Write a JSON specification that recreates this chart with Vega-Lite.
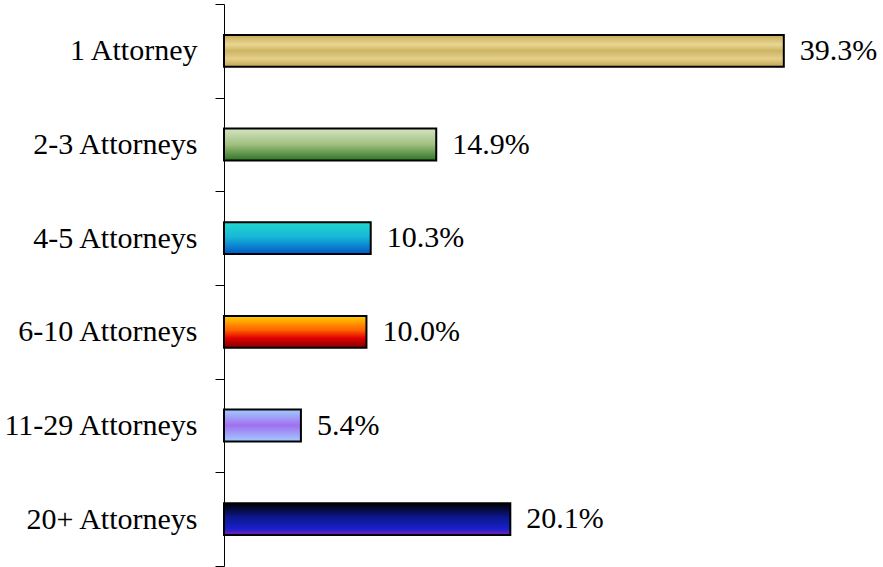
{
  "$schema": "https://vega.github.io/schema/vega-lite/v6.json",
  "width": 641,
  "height": 562,
  "autosize": "none",
  "padding": {"left": 224, "top": 4, "right": 18, "bottom": 1},
  "background": "white",
  "config": {"view": {"stroke": null}, "font": "Liberation Serif"},
  "data": {"values": [
    {"cat": "1 Attorney", "pct": 39.3, "label": "39.3%"},
    {"cat": "2-3 Attorneys", "pct": 14.9, "label": "14.9%"},
    {"cat": "4-5 Attorneys", "pct": 10.3, "label": "10.3%"},
    {"cat": "6-10 Attorneys", "pct": 10.0, "label": "10.0%"},
    {"cat": "11-29 Attorneys", "pct": 5.4, "label": "5.4%"},
    {"cat": "20+ Attorneys", "pct": 20.1, "label": "20.1%"}
  ]},
  "encoding": {
    "y": {"field": "cat", "type": "nominal", "sort": null,
      "scale": {"domain": ["1 Attorney", "2-3 Attorneys", "4-5 Attorneys", "6-10 Attorneys", "11-29 Attorneys", "20+ Attorneys"], "paddingInner": 0, "paddingOuter": 0},
      "axis": {"title": null, "domainColor": "black", "domainWidth": 1, "tickColor": "black", "tickSize": 9, "tickBand": "extent", "labelFont": "Liberation Serif", "labelFontSize": 30, "labelColor": "black", "labelPadding": 18, "labelLimit": 0}},
    "x": {"field": "pct", "type": "quantitative", "scale": {"domain": [0, 45], "nice": false}, "axis": null}
  },
  "layer": [
    {"transform": [{"filter": "datum.cat === '1 Attorney'"}],
     "mark": {"type": "bar", "height": {"band": 0.34}, "stroke": "black", "strokeWidth": 2, "color": {"gradient": "linear", "x1": 0, "y1": 0, "x2": 0, "y2": 1, "stops": [
       {"offset": 0, "color": "#c6a955"}, {"offset": 0.3, "color": "#e8d692"}, {"offset": 0.5, "color": "#cdb463"}, {"offset": 0.75, "color": "#e4d08a"}, {"offset": 1, "color": "#c2a450"}]}}},
    {"transform": [{"filter": "datum.cat === '2-3 Attorneys'"}],
     "mark": {"type": "bar", "height": {"band": 0.34}, "stroke": "black", "strokeWidth": 2, "color": {"gradient": "linear", "x1": 0, "y1": 0, "x2": 0, "y2": 1, "stops": [
       {"offset": 0, "color": "#d4e4c0"}, {"offset": 0.5, "color": "#a0c080"}, {"offset": 1, "color": "#2f7424"}]}}},
    {"transform": [{"filter": "datum.cat === '4-5 Attorneys'"}],
     "mark": {"type": "bar", "height": {"band": 0.34}, "stroke": "black", "strokeWidth": 2, "color": {"gradient": "linear", "x1": 0, "y1": 0, "x2": 0, "y2": 1, "stops": [
       {"offset": 0, "color": "#22d8cc"}, {"offset": 0.45, "color": "#18b8d8"}, {"offset": 1, "color": "#0058c8"}]}}},
    {"transform": [{"filter": "datum.cat === '6-10 Attorneys'"}],
     "mark": {"type": "bar", "height": {"band": 0.34}, "stroke": "black", "strokeWidth": 2, "color": {"gradient": "linear", "x1": 0, "y1": 0, "x2": 0, "y2": 1, "stops": [
       {"offset": 0, "color": "#ffd000"}, {"offset": 0.45, "color": "#ff6000"}, {"offset": 0.7, "color": "#e00000"}, {"offset": 1, "color": "#800000"}]}}},
    {"transform": [{"filter": "datum.cat === '11-29 Attorneys'"}],
     "mark": {"type": "bar", "height": {"band": 0.34}, "stroke": "black", "strokeWidth": 2, "color": {"gradient": "linear", "x1": 0, "y1": 0, "x2": 0, "y2": 1, "stops": [
       {"offset": 0, "color": "#a0ccff"}, {"offset": 0.5, "color": "#a070f0"}, {"offset": 1, "color": "#a0ccff"}]}}},
    {"transform": [{"filter": "datum.cat === '20+ Attorneys'"}],
     "mark": {"type": "bar", "height": {"band": 0.34}, "stroke": "black", "strokeWidth": 2, "color": {"gradient": "linear", "x1": 0, "y1": 0, "x2": 0, "y2": 1, "stops": [
       {"offset": 0, "color": "#000000"}, {"offset": 0.45, "color": "#0c1890"}, {"offset": 0.8, "color": "#1820c8"}, {"offset": 1, "color": "#8020c0"}]}}},
    {"mark": {"type": "text", "align": "left", "baseline": "middle", "dx": 16, "font": "Liberation Serif", "fontSize": 30, "color": "black"},
     "encoding": {"text": {"field": "label"}}}
  ]
}
